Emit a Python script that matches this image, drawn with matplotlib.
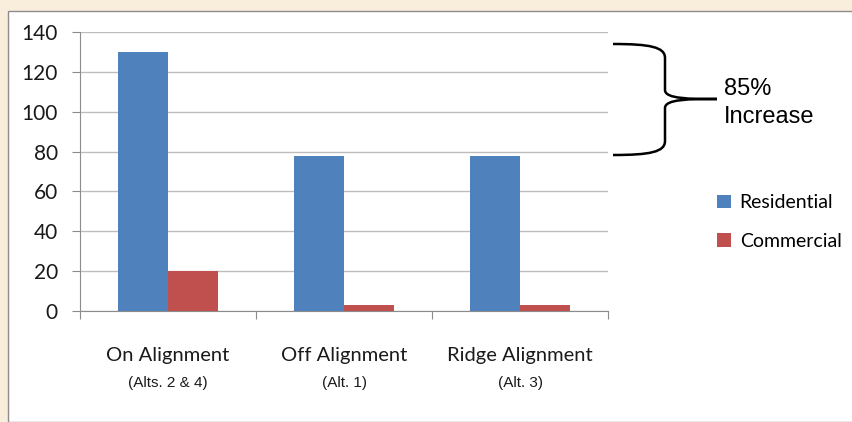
import numpy as np
import matplotlib.pyplot as plt
from matplotlib.patches import Rectangle, PathPatch
from matplotlib.path import Path

# data
categories = ['On Alignment', 'Off Alignment', 'Ridge Alignment']
subtitles = ['(Alts. 2 & 4)', '(Alt. 1)', '(Alt. 3)']
residential = [130, 78, 78]
commercial = [20, 3, 3]
yticks = [0, 20, 40, 60, 80, 100, 120, 140]

blue = '#4F81BD'
red = '#C0504D'
W, H = 853, 422

fig = plt.figure(figsize=(W / 100, H / 100), dpi=100)
fig.patch.set_facecolor('#F9EEDC')

# white panel with thin border
fig.patches.append(Rectangle((8 / W, 0), 1, 1 - 11 / H, transform=fig.transFigure,
                             facecolor='white', edgecolor='#8C8C8C', lw=1, zorder=-10))

ax = fig.add_axes([80 / W, 1 - 311 / H, 528 / W, 279 / H])
ax.set_facecolor('none')

x = np.arange(len(categories)) + 0.5
w = 0.285
ax.bar(x - w / 2, residential, w, color=blue, label='Residential', zorder=3)
ax.bar(x + w / 2, commercial, w, color=red, label='Commercial', zorder=3)

ax.set_xlim(0, 3)
ax.set_ylim(0, 140)
ax.set_yticks(yticks)
ax.yaxis.grid(True, color='#BDBDBD', lw=1)
ax.set_axisbelow(True)
for s in ['top', 'right']:
    ax.spines[s].set_visible(False)
for s in ['left', 'bottom']:
    ax.spines[s].set_color('#8C8C8C')
ax.tick_params(axis='y', length=6, color='#8C8C8C', labelsize=15, pad=10)
ax.set_xticks([0, 1, 2, 3])
ax.set_xticklabels([])
ax.tick_params(axis='x', which='major', length=6, color='#8C8C8C')
ax.set_xticks(x, minor=True)
ax.set_xticklabels(categories, minor=True, fontsize=14.5)
ax.tick_params(axis='x', which='minor', length=0, pad=26)
for lab in ax.get_yticklabels() + ax.get_xticklabels(minor=True):
    lab.set_family('Lato')
    lab.set_color('#1A1A1A')

for xi, sub in zip(x, subtitles):
    ax.text(xi, -0.258, sub, transform=ax.get_xaxis_transform(), ha='center', va='center',
            fontsize=11, family='Liberation Sans', color='#1A1A1A')

# brace
def fp(px, py):
    return (px / W, 1 - py / H)

verts = [fp(613, 44), fp(650, 44), fp(665, 47), fp(665, 58),
         fp(665, 90),
         fp(665, 99), fp(690, 99), fp(717, 99),
         fp(690, 99), fp(665, 99), fp(665, 108),
         fp(665, 141),
         fp(665, 152), fp(650, 155), fp(613, 155)]
codes = [Path.MOVETO, Path.CURVE4, Path.CURVE4, Path.CURVE4,
         Path.LINETO,
         Path.CURVE4, Path.CURVE4, Path.CURVE4,
         Path.CURVE4, Path.CURVE4, Path.CURVE4,
         Path.LINETO,
         Path.CURVE4, Path.CURVE4, Path.CURVE4]
fig.patches.append(PathPatch(Path(verts, codes), transform=fig.transFigure,
                             facecolor='none', edgecolor='black', lw=1.8))
fig.text(724 / W, 1 - 103 / H, '85%\nIncrease', ha='left', va='center', fontsize=17,
         family='Liberation Sans', linespacing=1.3)

leg = ax.legend(loc='center left', bbox_to_anchor=(717 / W, 1 - 222 / H),
                bbox_transform=fig.transFigure, frameon=False, borderpad=0, borderaxespad=0,
                prop={'family': 'Lato', 'size': 14}, handlelength=0.72, handleheight=0.72,
                handletextpad=0.45, labelspacing=1.1)

fig.savefig('out.png', dpi=100)
